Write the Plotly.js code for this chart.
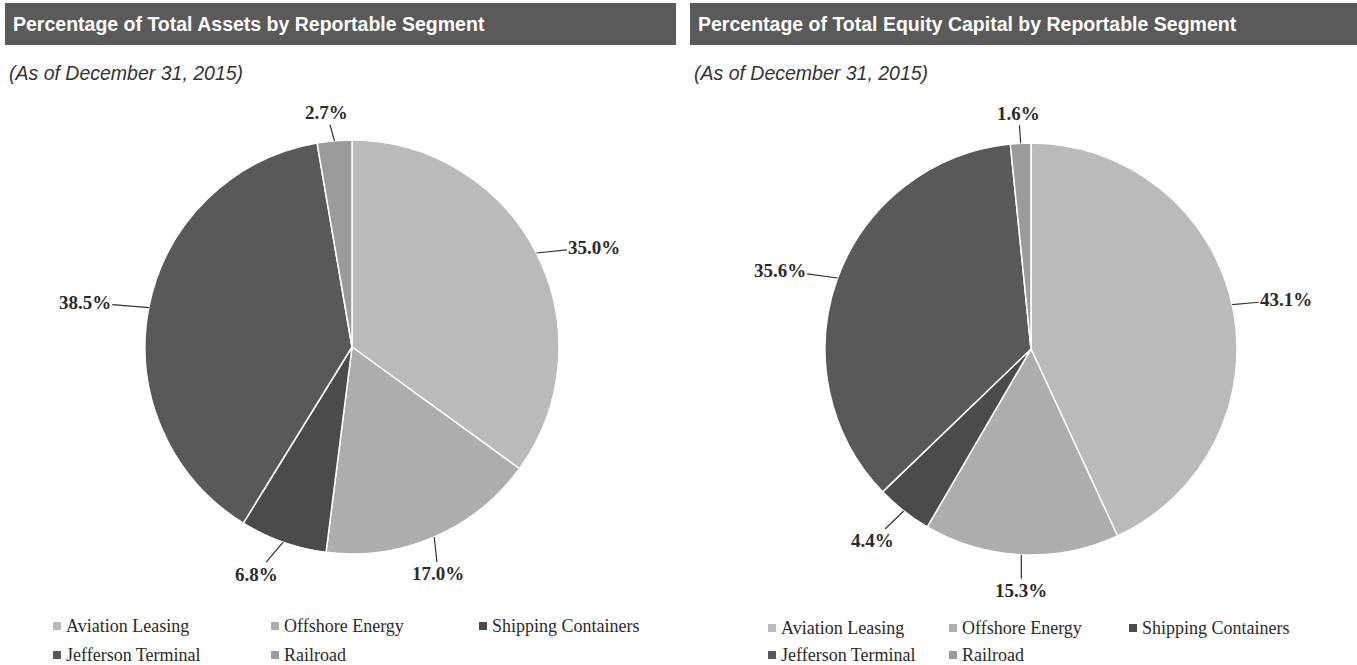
<!DOCTYPE html>
<html>
<head>
<meta charset="utf-8">
<script src="https://cdn.plot.ly/plotly-3.0.1.min.js"></script>
<style>html,body{margin:0;padding:0;background:#fff;}#chart{width:1357px;height:665px;}</style>
</head>
<body>
<div id="chart"></div>
<script>
// ---- data ----
const segments = ["Aviation Leasing", "Offshore Energy", "Shipping Containers", "Jefferson Terminal", "Railroad"];
const assetsPct = [35.0, 17.0, 6.8, 38.5, 2.7];
const equityPct = [43.1, 15.3, 4.4, 35.6, 1.6];
const leftTitle = "Percentage of Total Assets by Reportable Segment";
const rightTitle = "Percentage of Total Equity Capital by Reportable Segment";
const subTitle = "(As of December 31, 2015)";

// ---- styling ----
const W = 1357, H = 665;
const colors = ["#bababa", "#adadad", "#4b4b4b", "#595959", "#9b9b9b"];
const pies = [
  {values: assetsPct, cx: 352, cy: 347, r: 207,
   offs: [[58,-6],[4,37],[-27,32],[-64,-5],[-8,-28]],
   legendX: [57, 275, 483], legendY: [626, 655], bar: [5, 676]},
  {values: equityPct, cx: 1031, cy: 349, r: 206,
   offs: [[54,-5],[0,36],[-31,30],[-58,-8],[-2,-30]],
   legendX: [772, 953, 1133], legendY: [628, 655], bar: [690, 1357]}
];

const px = x => x / W;
const py = y => 1 - y / H;

const traces = [];
const annotations = [];
const shapes = [];

pies.forEach((p, i) => {
  traces.push({
    type: "pie",
    values: p.values,
    labels: segments,
    sort: false,
    direction: "clockwise",
    rotation: 0,
    textinfo: "none",
    hoverinfo: "label+value",
    showlegend: false,
    marker: {colors: colors, line: {color: "#ffffff", width: 1.5}},
    domain: {x: [px(p.cx - p.r), px(p.cx + p.r)], y: [py(p.cy + p.r), py(p.cy - p.r)]}
  });
  // labels with leader lines, anchored at mid-angle of each slice
  const total = p.values.reduce((a, b) => a + b, 0);
  let cum = 0;
  p.values.forEach((v, k) => {
    const mid = (cum + v / 2) / total * 2 * Math.PI;
    cum += v;
    const ex = p.cx + p.r * Math.sin(mid);
    const ey = p.cy - p.r * Math.cos(mid);
    annotations.push({
      xref: "paper", yref: "paper", x: px(ex), y: py(ey),
      text: v.toFixed(1) + "%", showarrow: true, arrowhead: 0, arrowwidth: 1.2,
      arrowcolor: "#333333", ax: p.offs[k][0], ay: p.offs[k][1],
      font: {family: "Liberation Serif, serif", size: 19, color: "#2a2a2a", weight: "bold"}
    });
  });
  // header bar
  shapes.push({type: "rect", xref: "paper", yref: "paper",
    x0: px(p.bar[0]), x1: px(p.bar[1]), y0: py(45), y1: py(3),
    fillcolor: "#5a5a5a", line: {width: 0}, layer: "below"});
  annotations.push({xref: "paper", yref: "paper", x: px(p.bar[0] + 6), y: py(24),
    xanchor: "left", yanchor: "middle", showarrow: false,
    text: "<b>" + (i === 0 ? leftTitle : rightTitle) + "</b>",
    font: {family: "Liberation Sans, Arial, sans-serif", size: 19.5, color: "#ffffff"}});
  annotations.push({xref: "paper", yref: "paper", x: px(p.bar[0] + 2), y: py(73),
    xanchor: "left", yanchor: "middle", showarrow: false,
    text: "<i>" + subTitle + "</i>",
    font: {family: "Liberation Sans, Arial, sans-serif", size: 19.5, color: "#333333"}});
  // legend
  segments.forEach((s, k) => {
    const col = k % 3, row = Math.floor(k / 3);
    const mx = p.legendX[col], my = p.legendY[row];
    shapes.push({type: "rect", xref: "paper", yref: "paper",
      x0: px(mx - 4), x1: px(mx + 4), y0: py(my + 4), y1: py(my - 4),
      fillcolor: colors[k], line: {width: 0}});
    annotations.push({xref: "paper", yref: "paper", x: px(mx + 7), y: py(my),
      xanchor: "left", yanchor: "middle", showarrow: false, text: s,
      font: {family: "Liberation Serif, Times New Roman, serif", size: 18, color: "#2a2a2a"}});
  });
});

const layout = {
  width: W, height: H,
  margin: {l: 0, r: 0, t: 0, b: 0},
  paper_bgcolor: "#ffffff",
  showlegend: false,
  shapes: shapes,
  annotations: annotations
};
Plotly.newPlot("chart", traces, layout, {displayModeBar: false, staticPlot: true});
</script>
</body>
</html>
